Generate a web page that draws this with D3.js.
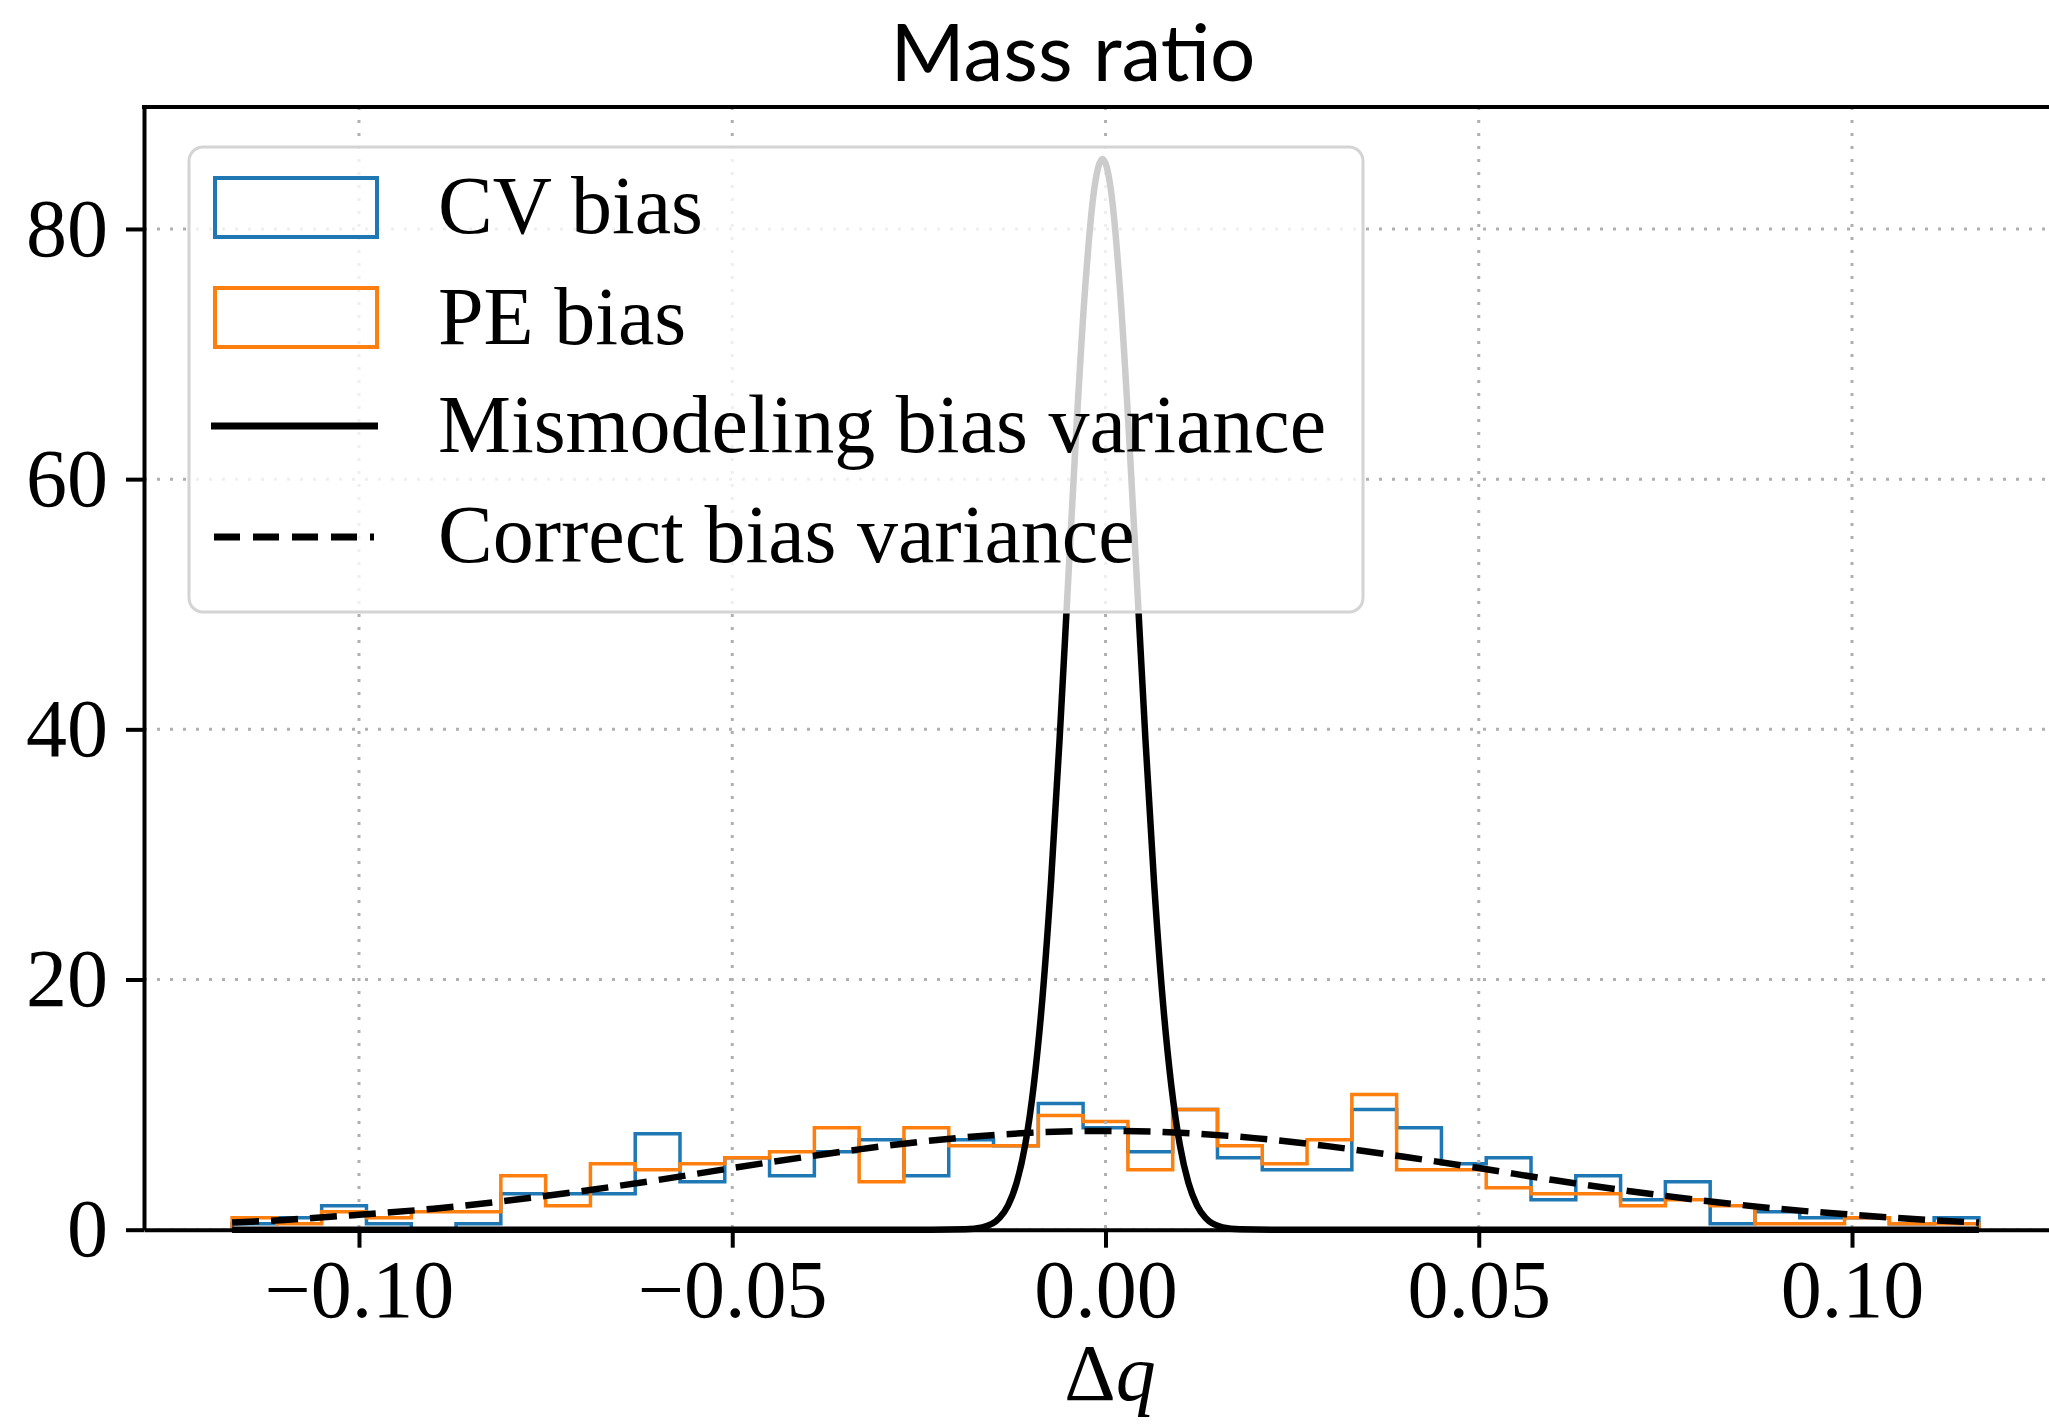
<!DOCTYPE html>
<html>
<head>
<meta charset="utf-8">
<script src="https://cdn.jsdelivr.net/npm/d3@7"></script>
<style>
body { margin: 0; background: #fff; }
.axis text { font-family: "Liberation Serif", serif; font-size: 82px; fill: #000; }
.axis line, .axis path { stroke: #000; }
</style>
</head>
<body>
<div id="chart"></div>
<script>
// histogram bin edges (width 0.006)
var binEdges = [-0.117, -0.111, -0.105, -0.099, -0.093, -0.087, -0.081, -0.075, -0.069, -0.063,
  -0.057, -0.051, -0.045, -0.039, -0.033, -0.027, -0.021, -0.015, -0.009, -0.003,
  0.003, 0.009, 0.015, 0.021, 0.027, 0.033, 0.039, 0.045, 0.051, 0.057,
  0.063, 0.069, 0.075, 0.081, 0.087, 0.093, 0.099, 0.105, 0.111, 0.117];

// density heights
var cvBias = [0.48, 0.96, 1.92, 0.48, 0, 0.48, 2.88, 2.88, 2.88, 7.68,
  3.84, 5.76, 4.32, 6.24, 7.2, 4.32, 7.2, 6.72, 10.08, 8.16,
  6.24, 9.6, 5.76, 4.8, 4.8, 9.6, 8.16, 5.28, 5.76, 2.4,
  4.32, 2.4, 3.84, 0.48, 1.44, 0.96, 0.96, 0.48, 0.96];

var peBias = [0.96, 0.48, 1.44, 0.96, 1.44, 1.44, 4.32, 1.92, 5.28, 4.8,
  5.28, 5.76, 6.24, 8.16, 3.84, 8.16, 6.72, 6.72, 9.12, 8.64,
  4.8, 9.6, 6.72, 5.28, 7.2, 10.8, 4.8, 4.8, 3.36, 2.88,
  2.88, 1.92, 2.4, 1.92, 0.48, 0.48, 0.96, 0.48, 0.48];

// narrow curve (mismodeling bias variance)
var mismodX = [-0.117, -0.03, -0.0234, -0.0188, -0.0165, -0.0142, -0.01305, -0.0119, -0.01075, -0.0096,
  -0.00845, -0.0073, -0.00615, -0.005, -0.00385, -0.0027, -0.00155, -0.0004, 0.00075, 0.0019,
  0.00305, 0.0042, 0.00535, 0.0065, 0.00765, 0.0088, 0.00995, 0.0111, 0.01225, 0.0134,
  0.0157, 0.018, 0.0226, 0.03, 0.117];
var mismodY = [0, 0, 0, 0.03, 0.19, 0.95, 1.95, 3.76, 6.81, 11.6,
  18.5, 27.8, 39.2, 51.9, 64.6, 75.5, 83.0, 85.6, 83.0, 75.5,
  64.6, 51.9, 39.2, 27.8, 18.5, 11.6, 6.81, 3.76, 1.95, 0.95,
  0.19, 0.03, 0, 0, 0];

// wide curve (correct bias variance)
var correctX = [-0.117, -0.11, -0.10, -0.09, -0.08, -0.07, -0.06, -0.05, -0.04, -0.03, -0.02, -0.01, 0,
  0.01, 0.02, 0.03, 0.04, 0.05, 0.06, 0.07, 0.08, 0.09, 0.10, 0.11, 0.117];
var correctY = [0.57, 0.78, 1.2, 1.68, 2.33, 3.1, 3.97, 4.93, 5.83, 6.66, 7.32, 7.75, 7.9,
  7.75, 7.32, 6.66, 5.83, 4.93, 3.97, 3.1, 2.33, 1.68, 1.2, 0.78, 0.57];

var xTicks = [-0.10, -0.05, 0, 0.05, 0.10];
var xTickLabels = ["\u22120.10", "\u22120.05", "0.00", "0.05", "0.10"];
var yTicks = [0, 20, 40, 60, 80];
var legendLabels = ["CV bias", "PE bias", "Mismodeling bias variance", "Correct bias variance"];

var width = 2049, height = 1424;
var plotLeft = 144, plotRight = 2067, plotTop = 107, plotBottom = 1229.7;

var xScale = d3.scaleLinear().domain([-0.1288, 0.1288]).range([plotLeft, plotRight]);
var yScale = d3.scaleLinear().domain([0, 89.75]).range([plotBottom, plotTop]);

var svg = d3.select("#chart").append("svg")
  .attr("width", width)
  .attr("height", height);

// title
svg.append("text")
  .attr("x", 1073).attr("y", 81)
  .attr("text-anchor", "middle")
  .style("font-family", "Lato, sans-serif")
  .style("font-size", "80px")
  .text("Mass ratio");

// step outline of a histogram
function stepPoints(vals) {
  var pts = [[binEdges[0], 0]];
  vals.forEach(function(v, i) {
    pts.push([binEdges[i], v]);
    pts.push([binEdges[i + 1], v]);
  });
  pts.push([binEdges[binEdges.length - 1], 0]);
  return pts;
}

var stepLine = d3.line()
  .x(function(d) { return xScale(d[0]); })
  .y(function(d) { return yScale(d[1]); });

svg.append("path").datum(stepPoints(cvBias))
  .attr("d", stepLine).attr("fill", "none")
  .attr("stroke", "#1f77b4").attr("stroke-width", 3.5);

svg.append("path").datum(stepPoints(peBias))
  .attr("d", stepLine).attr("fill", "none")
  .attr("stroke", "#ff7f0e").attr("stroke-width", 3.5);

// grid
svg.selectAll(".vgrid").data(xTicks).enter().append("line")
  .attr("x1", function(d) { return xScale(d); })
  .attr("x2", function(d) { return xScale(d); })
  .attr("y1", plotTop).attr("y2", plotBottom)
  .attr("stroke", "#b0b0b0").attr("stroke-width", 3)
  .attr("stroke-dasharray", "3,10");

svg.selectAll(".hgrid").data(yTicks).enter().append("line")
  .attr("x1", plotLeft).attr("x2", plotRight)
  .attr("y1", function(d) { return yScale(d); })
  .attr("y2", function(d) { return yScale(d); })
  .attr("stroke", "#b0b0b0").attr("stroke-width", 3)
  .attr("stroke-dasharray", "3,10");

var curve = d3.line()
  .x(function(d) { return xScale(d[0]); })
  .y(function(d) { return yScale(d[1]); })
  .curve(d3.curveMonotoneX);

svg.append("path").datum(d3.zip(mismodX, mismodY))
  .attr("d", curve).attr("fill", "none")
  .attr("stroke", "#000").attr("stroke-width", 6.5);

svg.append("path").datum(d3.zip(correctX, correctY))
  .attr("d", curve).attr("fill", "none")
  .attr("stroke", "#000").attr("stroke-width", 6.5)
  .attr("stroke-dasharray", "27,12");

// axes
var xAxis = svg.append("g")
  .attr("class", "axis")
  .attr("transform", "translate(0," + plotBottom + ")")
  .call(d3.axisBottom(xScale).tickValues(xTicks)
    .tickFormat(function(d, i) { return xTickLabels[i]; })
    .tickSize(18).tickSizeOuter(0));
xAxis.selectAll("text").attr("y", 87).attr("dy", 0);

var yAxis = svg.append("g")
  .attr("class", "axis")
  .attr("transform", "translate(" + plotLeft + ",0)")
  .call(d3.axisLeft(yScale).tickValues(yTicks).tickSize(18).tickPadding(18).tickSizeOuter(0));

svg.selectAll(".axis line").attr("stroke-width", 4);
svg.selectAll(".axis path.domain").attr("stroke-width", 4);

// top spine
svg.append("line")
  .attr("x1", plotLeft - 2).attr("x2", plotRight)
  .attr("y1", plotTop).attr("y2", plotTop)
  .attr("stroke", "#000").attr("stroke-width", 4);

// x label
var xl = svg.append("text")
  .attr("x", 1110).attr("y", 1400)
  .attr("text-anchor", "middle")
  .style("font-family", "Liberation Serif, serif")
  .style("font-size", "80px");
xl.append("tspan").text("\u0394");
xl.append("tspan").style("font-style", "italic").text("q");

// legend
var lg = svg.append("g");
lg.append("rect")
  .attr("x", 189).attr("y", 147).attr("width", 1174).attr("height", 465)
  .attr("rx", 14)
  .attr("fill", "#fff").attr("fill-opacity", 0.8)
  .attr("stroke", "#d4d4d4").attr("stroke-width", 3);

lg.append("rect").attr("x", 215).attr("y", 178).attr("width", 162).attr("height", 59)
  .attr("fill", "none").attr("stroke", "#1f77b4").attr("stroke-width", 4);
lg.append("rect").attr("x", 215).attr("y", 288).attr("width", 162).attr("height", 59)
  .attr("fill", "none").attr("stroke", "#ff7f0e").attr("stroke-width", 4);
lg.append("line").attr("x1", 211).attr("x2", 378).attr("y1", 426).attr("y2", 426)
  .attr("stroke", "#000").attr("stroke-width", 7);
lg.append("line").attr("x1", 214).attr("x2", 374).attr("y1", 537).attr("y2", 537)
  .attr("stroke", "#000").attr("stroke-width", 7).attr("stroke-dasharray", "26,13");

var baselines = [233, 344, 452, 562];
lg.selectAll(".lt").data(legendLabels).enter().append("text")
  .attr("x", 438)
  .attr("y", function(d, i) { return baselines[i]; })
  .style("font-family", "Liberation Serif, serif")
  .style("font-size", "82px")
  .text(function(d) { return d; });
</script>
</body>
</html>
